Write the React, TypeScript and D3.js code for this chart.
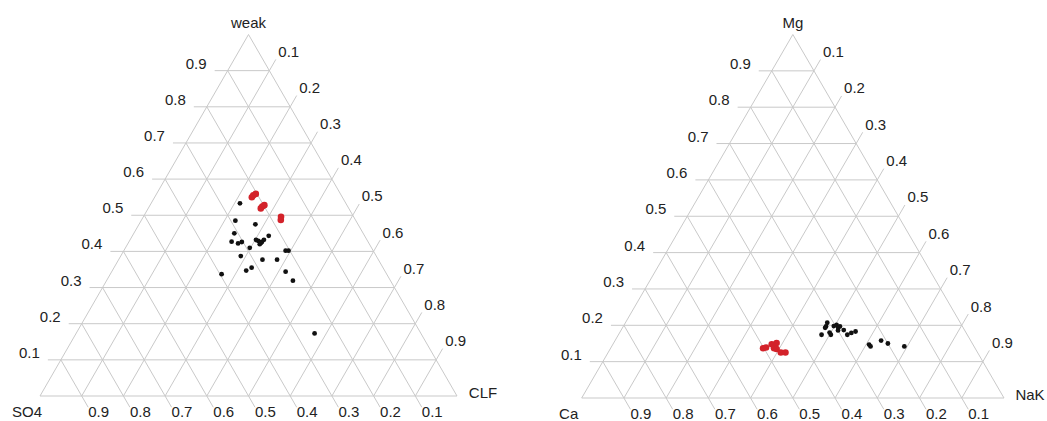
import React from "react";
import * as d3 from "d3";

// Grid / tick values shared by both ternary plots
const TICKS = [0.1, 0.2, 0.3, 0.4, 0.5, 0.6, 0.7, 0.8, 0.9];

// Anion plot: weak (top), SO4 (bottom-left), CLF (bottom-right)
const ANION_AXES = ["weak", "SO4", "CLF"];
const anionGroupA = {
  weak: [0.533, 0.485, 0.475, 0.45, 0.427, 0.422, 0.426, 0.41, 0.429, 0.42, 0.426, 0.432, 0.443, 0.402, 0.402, 0.387, 0.377, 0.377, 0.337, 0.347, 0.355, 0.344, 0.319, 0.173, 0.432, 0.424],
  so4: [0.254, 0.289, 0.246, 0.309, 0.327, 0.314, 0.303, 0.292, 0.262, 0.263, 0.255, 0.247, 0.23, 0.21, 0.203, 0.325, 0.278, 0.243, 0.396, 0.332, 0.315, 0.239, 0.234, 0.255, 0.266, 0.258],
  clf: [0.213, 0.226, 0.279, 0.241, 0.246, 0.264, 0.271, 0.298, 0.309, 0.317, 0.319, 0.321, 0.327, 0.388, 0.395, 0.288, 0.345, 0.38, 0.267, 0.321, 0.33, 0.417, 0.447, 0.572, 0.302, 0.318],
};
const anionGroupB = {
  weak: [0.55, 0.555, 0.559, 0.519, 0.524, 0.528, 0.496, 0.487],
  so4: [0.217, 0.211, 0.203, 0.211, 0.205, 0.198, 0.174, 0.179],
  clf: [0.233, 0.234, 0.238, 0.27, 0.271, 0.274, 0.33, 0.334],
};

// Cation plot: Mg (top), Ca (bottom-left), NaK (bottom-right)
const CATION_AXES = ["Mg", "Ca", "NaK"];
const cationGroupA = {
  mg: [0.174, 0.197, 0.207, 0.193, 0.174, 0.18, 0.198, 0.201, 0.193, 0.197, 0.186, 0.187, 0.174, 0.179, 0.183, 0.147, 0.142, 0.158, 0.15, 0.142],
  ca: [0.345, 0.323, 0.315, 0.327, 0.323, 0.323, 0.304, 0.296, 0.296, 0.29, 0.3, 0.286, 0.284, 0.272, 0.26, 0.246, 0.245, 0.212, 0.2, 0.165],
  nak: [0.481, 0.48, 0.478, 0.48, 0.503, 0.497, 0.498, 0.503, 0.511, 0.513, 0.514, 0.527, 0.542, 0.549, 0.557, 0.607, 0.613, 0.63, 0.65, 0.693],
};
const cationGroupB = {
  mg: [0.137, 0.139, 0.148, 0.151, 0.137, 0.135, 0.125, 0.125],
  ca: [0.502, 0.494, 0.476, 0.463, 0.476, 0.471, 0.466, 0.455],
  nak: [0.361, 0.367, 0.376, 0.386, 0.387, 0.394, 0.409, 0.42],
};

const GRID = "#c9c9c9";
const INK = "#222";
const RED = "#d3222a";
const FONT = "'Liberation Sans', Arial, Helvetica, sans-serif";
const TICK_LEN = 13;
const fmt = d3.format(".1f");

type Series = { top: number[]; left: number[]; right: number[]; color: string; r: number };

type TernaryProps = {
  x0: number;
  x1: number;
  baseY: number;
  apexY: number;
  axes: string[];
  series: Series[];
};

function Ternary({ x0, x1, baseY, apexY, axes, series }: TernaryProps) {
  // Cartesian position of a composition: horizontal = right + top/2, vertical = top
  const sx = d3.scaleLinear().domain([0, 1]).range([x0, x1]);
  const sy = d3.scaleLinear().domain([0, 1]).range([baseY, apexY]);
  const pt = (top: number, right: number): [number, number] => [sx(right + top / 2), sy(top)];

  const c60 = 0.5;
  const s60 = Math.sqrt(3) / 2;
  const line = d3.line();

  const outline = line([pt(1, 0), pt(0, 0), pt(0, 1), pt(1, 0)]) ?? "";
  const apex = pt(1, 0);

  return (
    <g>
      {TICKS.map((t) => {
        // constant top component, with tick extending to the left
        const a = pt(t, 0);
        const b = pt(t, 1 - t);
        const aT: [number, number] = [a[0] - TICK_LEN, a[1]];
        // constant right component, tick extending up-right past the right edge
        const c = pt(0, t);
        const d = pt(1 - t, t);
        const dT: [number, number] = [d[0] + TICK_LEN * c60, d[1] - TICK_LEN * s60];
        // constant left component, tick extending down-right below the base
        const e = pt(1 - t, 0);
        const f = pt(0, 1 - t);
        const fT: [number, number] = [f[0] + TICK_LEN * c60, f[1] + TICK_LEN * s60];
        return (
          <g key={t}>
            <path d={line([aT, b]) ?? ""} stroke={GRID} strokeWidth={1} fill="none" />
            <path d={line([c, dT]) ?? ""} stroke={GRID} strokeWidth={1} fill="none" />
            <path d={line([e, fT]) ?? ""} stroke={GRID} strokeWidth={1} fill="none" />
            <text x={aT[0] - 8} y={aT[1] - 2} textAnchor="end">{fmt(t)}</text>
            <text x={dT[0] + 2.5} y={dT[1] - 2.5} textAnchor="start">{fmt(t)}</text>
            <text x={fT[0]} y={fT[1] + 10} textAnchor="start">{fmt(t)}</text>
          </g>
        );
      })}
      <path d={outline} stroke={GRID} strokeWidth={1} fill="none" />
      <text x={apex[0]} y={apex[1] - 7} textAnchor="middle">{axes[0]}</text>
      <text x={x0 - 13} y={baseY + 21} textAnchor="middle">{axes[1]}</text>
      <text x={x1 + 26} y={baseY + 2} textAnchor="middle">{axes[2]}</text>
      {series.map((s, si) => (
        <g key={si}>
          {s.top.map((v, i) => {
            const [x, y] = pt(v, s.right[i]);
            return <circle key={i} cx={x} cy={y} r={s.r} fill={s.color} />;
          })}
        </g>
      ))}
    </g>
  );
}

export default function App() {
  return (
    <svg
      width={1047}
      height={421}
      style={{ position: "absolute", left: 0, top: 0, background: "#fff" }}
      fontFamily={FONT}
      fontSize={15}
      fill={INK}
    >
      <rect width={1047} height={421} fill="#fff" />
      <Ternary
        x0={40}
        x1={457}
        baseY={396}
        apexY={34.5}
        axes={ANION_AXES}
        series={[
          { top: anionGroupA.weak, left: anionGroupA.so4, right: anionGroupA.clf, color: "#111", r: 2.4 },
          { top: anionGroupB.weak, left: anionGroupB.so4, right: anionGroupB.clf, color: RED, r: 3.3 },
        ]}
      />
      <Ternary
        x0={581.7}
        x1={1004}
        baseY={398}
        apexY={34.5}
        axes={CATION_AXES}
        series={[
          { top: cationGroupA.mg, left: cationGroupA.ca, right: cationGroupA.nak, color: "#111", r: 2.4 },
          { top: cationGroupB.mg, left: cationGroupB.ca, right: cationGroupB.nak, color: RED, r: 3.3 },
        ]}
      />
    </svg>
  );
}
